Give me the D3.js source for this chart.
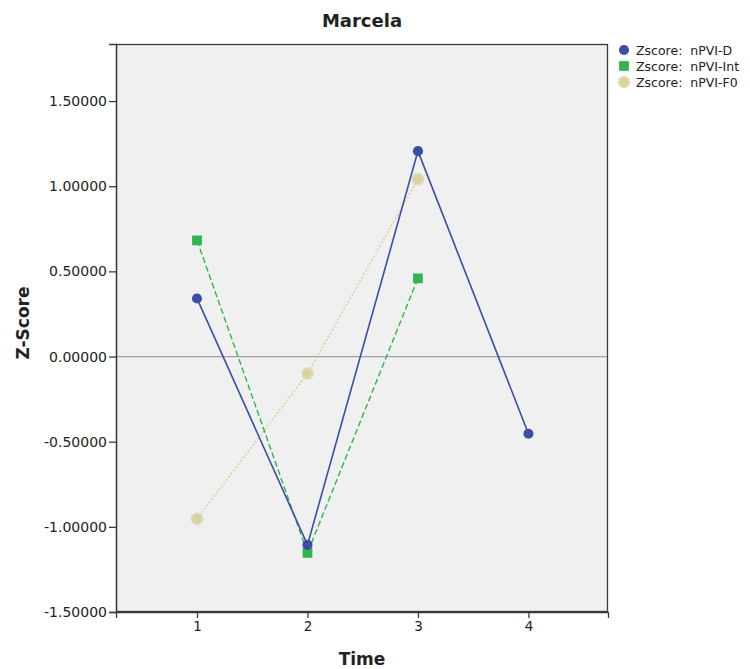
<!DOCTYPE html>
<html>
<head>
<meta charset="utf-8">
<script src="https://cdn.jsdelivr.net/npm/d3@7"></script>
<style>
  html, body { margin: 0; padding: 0; background: #fff; }
  svg { display: block; }
  text { font-family: "DejaVu Sans", "Noto Sans", sans-serif; fill: #222; }
  .legend-label { white-space: pre; }
</style>
</head>
<body>
<svg id="chart" width="750" height="669"></svg>
<script>
// Z-scores of three nPVI measures over four recording times
const times = [1, 2, 3, 4];
const seriesNames = ["Zscore:  nPVI-D", "Zscore:  nPVI-Int", "Zscore:  nPVI-F0"];
const nPVI_D   = [0.341, -1.106, 1.206, -0.453];
const nPVI_Int = [0.682, -1.153, 0.459, null];
const nPVI_F0  = [-0.953, -0.100, 1.041, null];
const yTicks = [-1.5, -1.0, -0.5, 0.0, 0.5, 1.0, 1.5];
const xTicks = [1, 2, 3, 4];

const svg = d3.select("#chart");
const plot = { left: 116, right: 608, top: 44, bottom: 612 };

const x = d3.scaleLinear().domain([0.267, 4.72]).range([plot.left, plot.right]);
const y = d3.scaleLinear().domain([-1.5, 1.835]).range([plot.bottom, plot.top]);

// plot background
svg.append("rect")
  .attr("x", plot.left).attr("y", plot.top)
  .attr("width", plot.right - plot.left).attr("height", plot.bottom - plot.top)
  .attr("fill", "#f0f0f0");

// zero reference line
svg.append("line")
  .attr("x1", plot.left).attr("x2", plot.right)
  .attr("y1", y(0)).attr("y2", y(0))
  .attr("stroke", "#a0a0a0").attr("stroke-width", 1.2);

// frame
svg.append("rect")
  .attr("x", plot.left + 0.5).attr("y", plot.top + 0.5)
  .attr("width", plot.right - plot.left - 1).attr("height", plot.bottom - plot.top - 1)
  .attr("fill", "none").attr("stroke", "#3a3a3a").attr("stroke-width", 1.3);

// axes
const yAxis = d3.axisLeft(y).tickValues(yTicks).tickFormat(d3.format(".5f")).tickSize(7).tickPadding(2);
const gy = svg.append("g").attr("transform", `translate(${plot.left},0)`).call(yAxis);
gy.select(".domain").attr("stroke", "#3a3a3a").attr("stroke-width", 1.3);
gy.selectAll(".tick line").attr("stroke", "#3a3a3a").attr("stroke-width", 1.3);
gy.selectAll(".tick text").attr("font-size", 14).attr("fill", "#3a3a3a")
  .attr("font-family", "'DejaVu Sans', sans-serif")
  .text(d => d3.format(".5f")(d).replace("\u2212", "-"));

const xAxis = d3.axisBottom(x).tickValues(xTicks).tickFormat(d3.format("d")).tickSize(6).tickPadding(3);
const gx = svg.append("g").attr("transform", `translate(0,${plot.bottom})`).call(xAxis);
gx.select(".domain").attr("stroke", "#3a3a3a").attr("stroke-width", 1.3);
gx.selectAll(".tick line").attr("stroke", "#3a3a3a").attr("stroke-width", 1.3);
gx.selectAll(".tick text").attr("font-size", 13.5).attr("fill", "#3a3a3a")
  .attr("font-family", "'DejaVu Sans', sans-serif");

// series definitions
const series = [
  { name: seriesNames[0], values: nPVI_D,   color: "#3c4ea3", dash: null,  width: 1.6, shape: "circle" },
  { name: seriesNames[1], values: nPVI_Int, color: "#2fb54b", dash: "6,3", width: 1.4, shape: "square" },
  { name: seriesNames[2], values: nPVI_F0,  color: "#d9d29e", dash: "2,2", width: 1.6, shape: "star" }
];

const line = d3.line()
  .defined(d => d.v !== null)
  .x(d => x(d.t)).y(d => y(d.v));

function drawMarker(g, shape, color, cx, cy) {
  if (shape === "circle") {
    g.append("path").attr("d", d3.symbol(d3.symbolCircle, 80)())
      .attr("transform", `translate(${cx},${cy})`).attr("fill", color);
  } else if (shape === "square") {
    g.append("path").attr("d", d3.symbol(d3.symbolSquare, 95)())
      .attr("transform", `translate(${cx},${cy})`).attr("fill", color);
  } else {
    g.append("path").attr("d", d3.symbol(d3.symbolAsterisk, 110)())
      .attr("transform", `translate(${cx},${cy})`)
      .attr("fill", "none").attr("stroke", color).attr("stroke-width", 2);
    g.append("path").attr("d", d3.symbol(d3.symbolAsterisk, 110)())
      .attr("transform", `translate(${cx},${cy}) rotate(30)`)
      .attr("fill", "none").attr("stroke", color).attr("stroke-width", 2);
  }
}

// lines drawn back to front: F0, Int, D
[2, 1, 0].forEach(i => {
  const s = series[i];
  const pts = times.map((t, k) => ({ t, v: s.values[k] }));
  svg.append("path").datum(pts)
    .attr("d", line)
    .attr("fill", "none")
    .attr("stroke", s.color)
    .attr("stroke-width", s.width)
    .attr("stroke-dasharray", s.dash);
});

[2, 1, 0].forEach(i => {
  const s = series[i];
  const g = svg.append("g");
  times.forEach((t, k) => {
    if (s.values[k] !== null) drawMarker(g, s.shape, s.color, x(t), y(s.values[k]));
  });
});

// title and axis titles
svg.append("text").attr("x", 362).attr("y", 27).attr("text-anchor", "middle")
  .attr("font-size", 18).attr("font-weight", "bold").text("Marcela");
svg.append("text").attr("x", 362).attr("y", 665).attr("text-anchor", "middle")
  .attr("font-size", 17).attr("font-weight", "bold").text("Time");
svg.append("text").attr("transform", "translate(29,323) rotate(-90)").attr("text-anchor", "middle")
  .attr("font-size", 17).attr("font-weight", "bold").text("Z-Score");

// legend
const legend = svg.append("g");
series.forEach((s, i) => {
  const ly = 50 + i * 16;
  drawMarker(legend, s.shape, s.color, 624, ly);
  legend.append("text").attr("class", "legend-label")
    .attr("x", 636).attr("y", ly + 4.5)
    .attr("font-size", 12.5).attr("fill", "#333").text(s.name);
});
</script>
</body>
</html>
